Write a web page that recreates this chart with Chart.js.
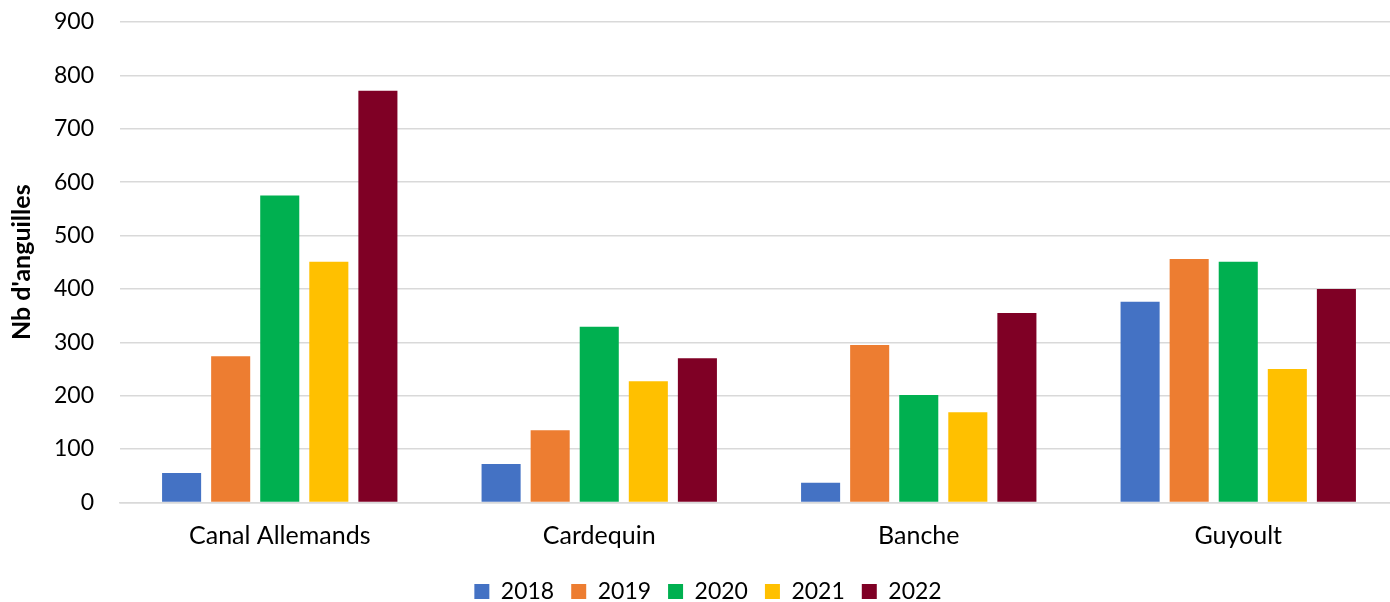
<!DOCTYPE html>
<html>
<head>
<meta charset="utf-8">
<script src="https://cdn.jsdelivr.net/npm/chart.js@4"></script>
<style>
  html, body { margin: 0; padding: 0; background: #fff; overflow: hidden; }
  #wrap { width: 1398px; height: 602px; }
</style>
</head>
<body>
<div id="wrap"><canvas id="anguillesChart" width="1398" height="602"></canvas></div>
<script>
const sites = ["Canal Allemands", "Cardequin", "Banche", "Guyoult"];
const years = ["2018", "2019", "2020", "2021", "2022"];
const v2018 = [55, 72, 37, 376];
const v2019 = [274, 135, 295, 456];
const v2020 = [575, 329, 201, 451];
const v2021 = [451, 227, 169, 250];
const v2022 = [771, 270, 355, 400];
const colors = ["#4472C4", "#ED7D31", "#00B050", "#FFC000", "#7F0025"];

const series = [v2018, v2019, v2020, v2021, v2022];
const FONT = "Lato";

// decale la legende un peu vers la droite, comme dans l'original
const legendShift = {
    id: "legendShift",
    afterLayout(chart) {
        chart.legend.left += 9;
        chart.legend.right += 9;
    }
};

const ctx = document.getElementById("anguillesChart").getContext("2d");
new Chart(ctx, {
    type: "bar",
    data: {
        labels: sites,
        datasets: series.map((vals, i) => ({
            label: years[i],
            data: vals,
            backgroundColor: colors[i],
            borderWidth: 0,
            categoryPercentage: 0.768,
            barPercentage: 0.796
        }))
    },
    plugins: [legendShift],
    options: {
        responsive: false,
        animation: false,
        layout: { padding: { top: 0, left: 0, right: 0, bottom: -11 } },
        plugins: {
            tooltip: { enabled: false },
            legend: {
                position: "bottom",
                labels: {
                    boxWidth: 15,
                    boxHeight: 15,
                    padding: 17,
                    color: "#000",
                    font: { family: FONT, size: 23 }
                }
            }
        },
        scales: {
            x: {
                grid: { display: false, drawTicks: false },
                border: { color: "#d9d9d9", width: 1.5 },
                ticks: { color: "#000", padding: 19, font: { family: FONT, size: 25 } },
                afterFit: scale => { scale.height -= 7.4; }
            },
            y: {
                min: 0,
                max: 900,
                ticks: { stepSize: 100, color: "#000", padding: 26, font: { family: FONT, size: 23 } },
                grid: { color: "#d9d9d9", lineWidth: 1.5, drawTicks: false },
                border: { display: false },
                title: {
                    display: true,
                    text: "Nb d'anguilles",
                    color: "#000",
                    font: { family: FONT, size: 25, weight: "bold" },
                    padding: { top: 7, bottom: 0 }
                },
                afterFit: scale => {
                    scale.width = 120;
                    scale.paddingTop = 22;
                }
            }
        }
    }
});
</script>
</body>
</html>
